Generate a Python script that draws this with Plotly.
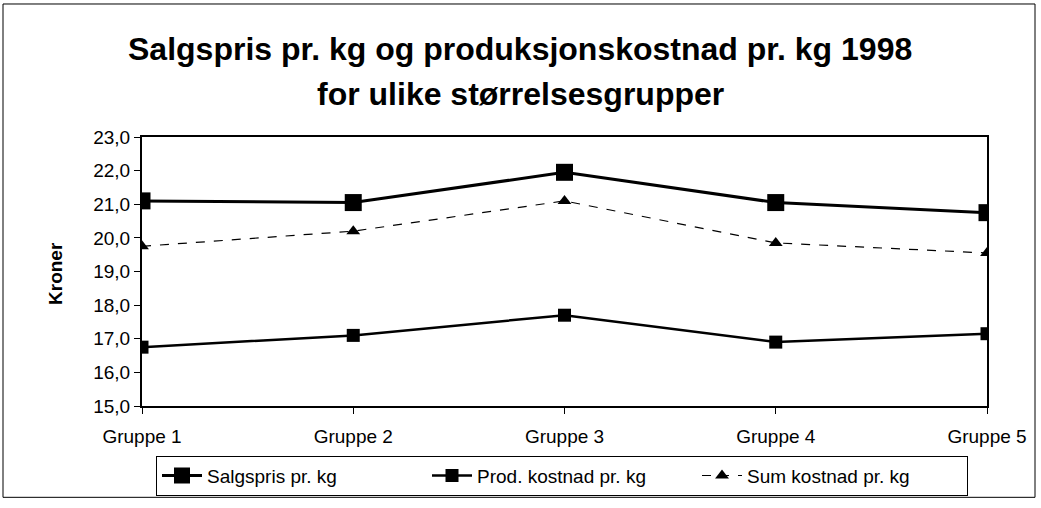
import plotly.graph_objects as go

categories = ["Gruppe 1", "Gruppe 2", "Gruppe 3", "Gruppe 4", "Gruppe 5"]
salgspris = [21.1, 21.05, 21.95, 21.05, 20.75]
prod_kostnad = [16.75, 17.1, 17.7, 16.9, 17.15]
sum_kostnad = [19.75, 20.2, 21.1, 19.85, 19.55]
y_ticks = [15, 16, 17, 18, 19, 20, 21, 22, 23]
y_ticklabels = ["15,0", "16,0", "17,0", "18,0", "19,0", "20,0", "21,0", "22,0", "23,0"]

FONT = "Liberation Sans, Arial, sans-serif"

fig = go.Figure()
fig.add_trace(go.Scatter(x=categories, y=salgspris, name="Salgspris pr. kg",
                         mode="lines+markers",
                         line=dict(color="black", width=3),
                         marker=dict(symbol="square", size=17, color="black")))
fig.add_trace(go.Scatter(x=categories, y=prod_kostnad, name="Prod. kostnad pr. kg",
                         mode="lines+markers",
                         line=dict(color="black", width=2.5),
                         marker=dict(symbol="square", size=13, color="black")))
fig.add_trace(go.Scatter(x=categories, y=sum_kostnad, name="Sum kostnad pr. kg",
                         mode="lines+markers",
                         line=dict(color="black", width=1.2, dash="dash"),
                         marker=dict(symbol="triangle-up", size=12, color="black")))

W, H = 1041, 508
L, R, T, B = 142, 54, 137, 100
pw, ph = W - L - R, H - T - B

def px_x(x):
    return (x - L) / pw

def px_y(y):
    return (H - B - y) / ph

fig.update_layout(
    width=W, height=H,
    margin=dict(l=L, r=R, t=T, b=B),
    paper_bgcolor="white", plot_bgcolor="white",
    font=dict(family=FONT, size=19, color="black"),
    showlegend=True,
    legend=dict(orientation="h", x=px_x(156), y=px_y(458), xanchor="left", yanchor="top",
                bordercolor="black", borderwidth=1, bgcolor="white",
                font=dict(size=19, family=FONT), itemwidth=40, tracegroupgap=0,
                entrywidth=215, entrywidthmode="pixels"),
    xaxis=dict(type="category", range=[0, 4], showgrid=False, zeroline=False,
               showline=True, linecolor="black", linewidth=2, mirror=True,
               ticks="outside", ticklen=6, tickcolor="black", ticklabelstandoff=6,
               tickfont=dict(size=19, family=FONT)),
    yaxis=dict(range=[15, 23], tickvals=y_ticks, ticktext=y_ticklabels,
               showgrid=False, zeroline=False,
               showline=True, linecolor="black", linewidth=2, mirror=True,
               ticks="outside", ticklen=6, tickcolor="black",
               tickfont=dict(size=19, family=FONT)),
)

fig.add_annotation(text="<b>Kroner</b>", textangle=-90,
                   xref="paper", yref="paper", x=px_x(56), y=px_y(275),
                   xanchor="center", yanchor="middle", showarrow=False,
                   font=dict(size=19, family=FONT))
fig.add_annotation(text="<b>Salgspris pr. kg og produksjonskostnad pr. kg 1998</b>",
                   xref="paper", yref="paper", x=px_x(520), y=px_y(48),
                   xanchor="center", yanchor="middle", showarrow=False,
                   font=dict(size=32, family=FONT))
fig.add_annotation(text="<b>for ulike størrelsesgrupper</b>",
                   xref="paper", yref="paper", x=px_x(520), y=px_y(94),
                   xanchor="center", yanchor="middle", showarrow=False,
                   font=dict(size=32, family=FONT))

fig.add_shape(type="rect", xref="paper", yref="paper",
              x0=px_x(3), x1=px_x(1035), y0=px_y(500), y1=px_y(3),
              line=dict(color="black", width=1), layer="below")

fig.write_html("out.html", config={"displayModeBar": False},
               post_script="document.body.style.margin='0';")
